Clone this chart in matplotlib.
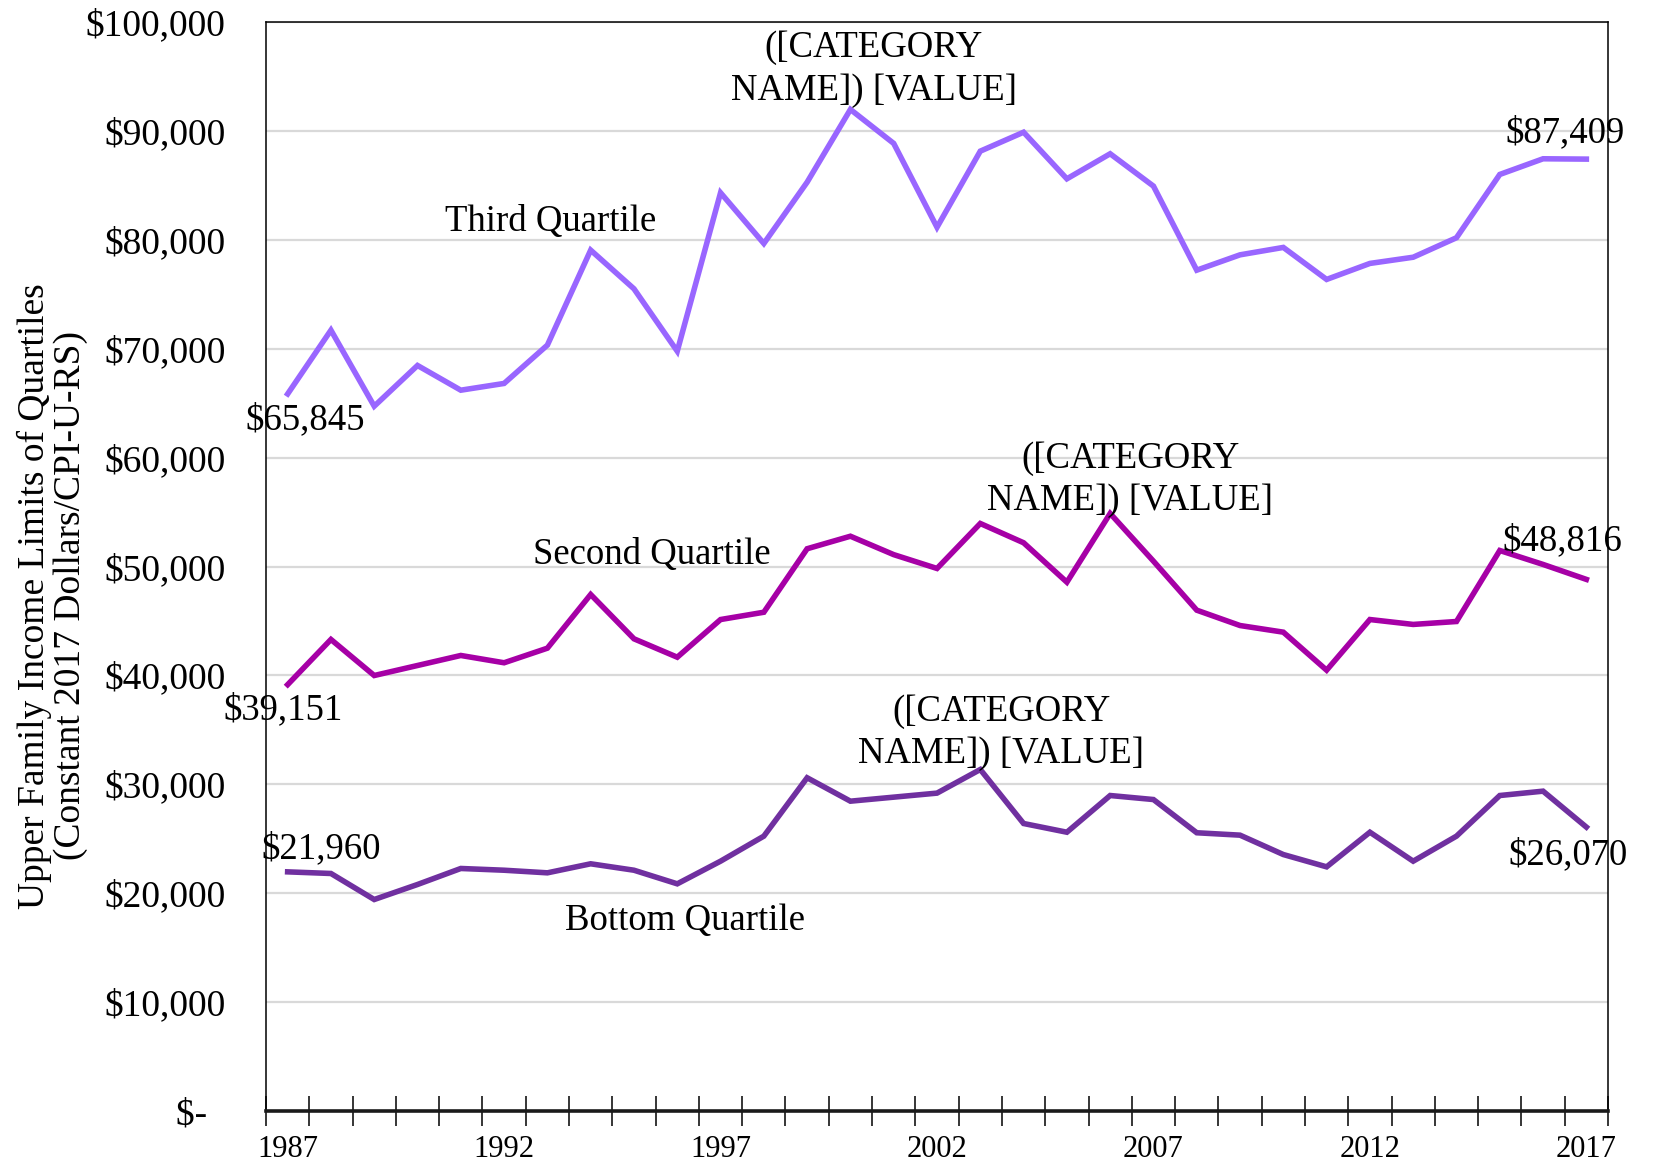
import numpy as np
import matplotlib
matplotlib.use("Agg")
import matplotlib.pyplot as plt
from matplotlib.ticker import FixedLocator, FuncFormatter

plt.rcParams['font.family'] = ['Liberation Serif', 'DejaVu Serif']
plt.rcParams['text.parse_math'] = False

# ---- data ----
years = list(range(1987, 2018))

third_q = [65845, 71700, 64720, 68460, 66190, 66810, 70330, 79050, 75500, 69770,
           84320, 79660, 85290, 91970, 88850, 81150, 88140, 89880, 85600, 87900,
           84930, 77210, 78620, 79300, 76360, 77830, 78400, 80190, 86000, 87440,
           87409]

second_q = [39151, 43300, 39990, 40910, 41830, 41160, 42500, 47430, 43360, 41670,
            45130, 45800, 51630, 52780, 51090, 49820, 53950, 52180, 48560, 54870,
            50490, 45990, 44580, 43970, 40480, 45130, 44680, 44950, 51470, 50190,
            48816]

bottom_q = [21960, 21810, 19420, 20800, 22270, 22110, 21870, 22700, 22110, 20860,
            22940, 25240, 30600, 28450, 28820, 29190, 31360, 26400, 25600, 28970,
            28600, 25550, 25330, 23550, 22420, 25600, 22940, 25240, 28970, 29370,
            26070]

series_names = ["Third Quartile", "Second Quartile", "Bottom Quartile"]
colors = ["#9966FF", "#A600A6", "#7030A0"]

x = np.arange(len(years))

fig = plt.figure(figsize=(16.56, 11.64), dpi=100)
ax = fig.add_axes([266 / 1656, 1 - 1111 / 1164, (1608 - 266) / 1656, (1111 - 22) / 1164])

# gridlines
for v in range(10000, 100001, 10000):
    ax.axhline(v, color='#D9D9D9', lw=1.6, zorder=0)

for vals, c in zip([third_q, second_q, bottom_q], colors):
    ax.plot(x, vals, color=c, lw=4.0, solid_joinstyle='miter', zorder=3)

ax.set_xlim(-0.5, len(years) - 0.5)
ax.set_ylim(0, 100000)

# y axis
ax.yaxis.set_major_locator(FixedLocator(range(0, 100001, 10000)))
ax.yaxis.set_major_formatter(FuncFormatter(lambda v, p: "$-  " if v == 0 else f"${v:,.0f}"))
ax.tick_params(axis='y', length=0, pad=29, labelsize=27)

# x axis: labels every 5 years at category centres, tick marks at boundaries
ax.set_xticks(x[::5])
ax.set_xticklabels([str(years[i]) for i in x[::5]])
ax.set_xticks(np.arange(-0.5, len(years), 1.0), minor=True)
ax.tick_params(axis='x', which='major', length=0, pad=17, labelsize=22)
ax.tick_params(axis='x', which='minor', direction='inout', length=22, width=1.1)

for s in ['top', 'right', 'left']:
    ax.spines[s].set_linewidth(1.1)
    ax.spines[s].set_color('black')
ax.spines['bottom'].set_linewidth(2.6)
ax.spines['bottom'].set_color('#1a1a1a')

fig.text(52 / 1656, 0.488,
         "Upper Family Income Limits of Quartiles\n(Constant 2017 Dollars/CPI-U-RS)",
         rotation=90, ha='center', va='center', multialignment='center',
         fontsize=27, linespacing=1.05)

# series name labels
ax.text(6.08, 81700, series_names[0], ha='center', va='center', fontsize=26.5)
ax.text(8.42, 51110, series_names[1], ha='center', va='center', fontsize=26.5)
ax.text(9.17, 17425, series_names[2], ha='center', va='center', fontsize=26.5)

# end-point value labels (offsets in pixels)
def lab(i, vals, dx, dy, txt=None):
    t = txt if txt is not None else f"${vals[i]:,.0f}"
    ax.annotate(t, xy=(x[i], vals[i]), xytext=(dx * 1.056, -dy * 1.056),
                textcoords='offset pixels', ha='center', va='center',
                fontsize=26.5, linespacing=1.3, zorder=5)

last = len(years) - 1
lab(0, third_q, 17, 25)
lab(last, third_q, -20, -25)
lab(0, second_q, -4, 24)
lab(last, second_q, -23, -36)
lab(0, bottom_q, 32, -22)
lab(last, bottom_q, -17, 26)

peak = "([CATEGORY\nNAME]) [VALUE]"
lab(13, third_q, 22, -38, peak)
lab(19, second_q, 19, -32, peak)
lab(16, bottom_q, 20, -35, peak)

fig.savefig("out.png", dpi=100)
